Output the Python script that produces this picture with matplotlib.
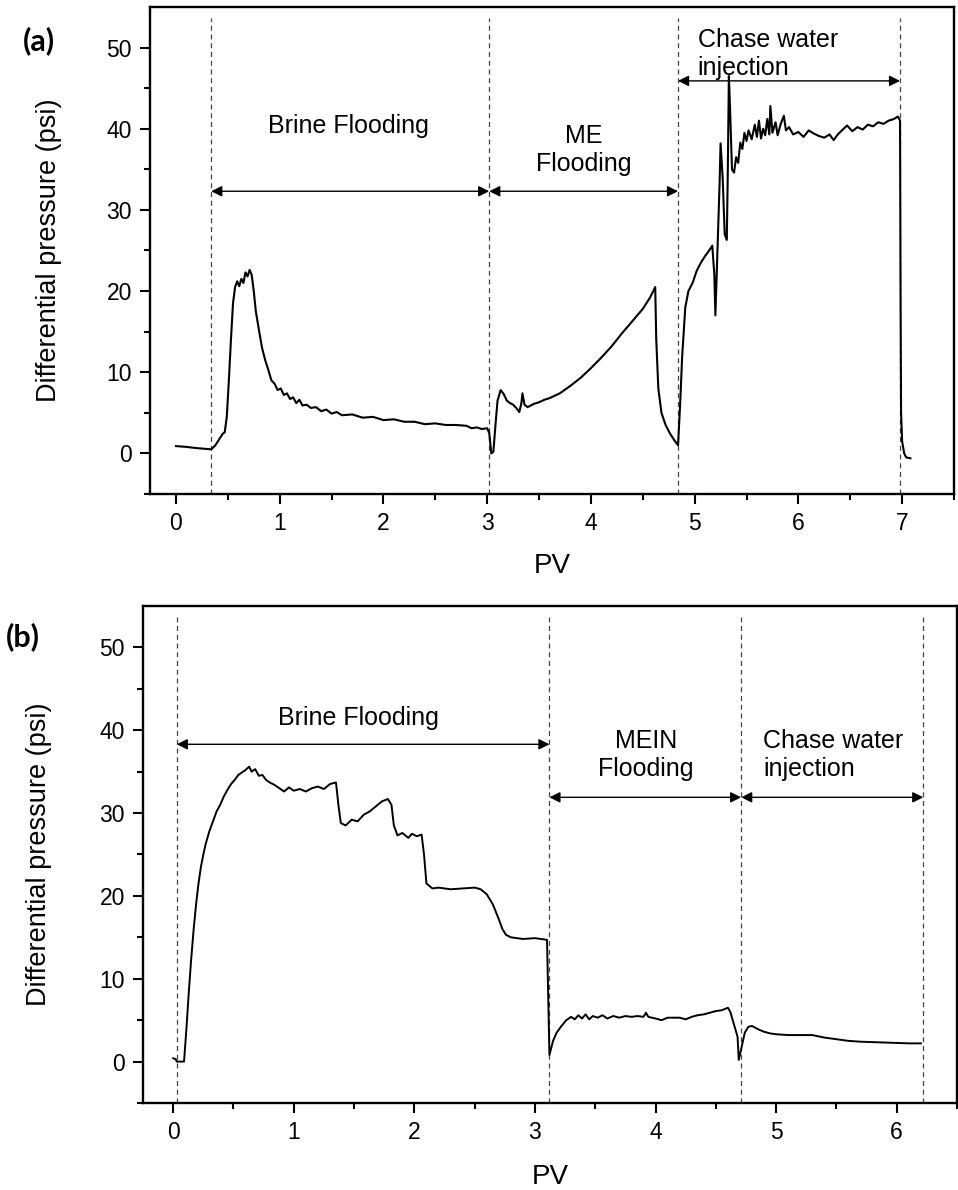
import matplotlib
matplotlib.use("Agg")
import matplotlib.pyplot as plt

plt.rcParams['font.family'] = ['Liberation Sans', 'DejaVu Sans']

# ---- panel (a) ----
pv_a = [0.00, 0.10, 0.20, 0.30, 0.34, 0.38, 0.42, 0.45, 0.47, 0.49, 0.51, 0.53, 0.55, 0.57,
        0.59, 0.61, 0.63, 0.65, 0.67, 0.69, 0.71, 0.73, 0.75, 0.77, 0.80, 0.83, 0.86, 0.89,
        0.92, 0.95, 0.98, 1.01, 1.04, 1.07, 1.10, 1.13, 1.16, 1.19, 1.22, 1.26, 1.30, 1.35,
        1.40, 1.45, 1.50, 1.55, 1.60, 1.70, 1.80, 1.90, 2.00, 2.10, 2.20, 2.30, 2.40, 2.50,
        2.60, 2.70, 2.80, 2.85, 2.90, 2.95, 3.00,
        3.02, 3.04, 3.06, 3.08, 3.10, 3.13, 3.16, 3.19, 3.22, 3.25, 3.28, 3.31, 3.33, 3.34,
        3.36, 3.39, 3.45, 3.50, 3.55, 3.60, 3.65, 3.70, 3.80, 3.90, 4.00, 4.10, 4.20, 4.30,
        4.40, 4.50, 4.57, 4.62, 4.63, 4.65, 4.68, 4.72, 4.76, 4.80, 4.84,
        4.86, 4.88, 4.91, 4.94, 4.98, 5.02, 5.06, 5.10, 5.14, 5.17, 5.19, 5.20, 5.22, 5.24,
        5.25, 5.27, 5.29, 5.31, 5.32, 5.33, 5.34, 5.36, 5.38, 5.40, 5.42, 5.44, 5.46, 5.48,
        5.50, 5.52, 5.55, 5.58, 5.60, 5.62, 5.64, 5.66, 5.68, 5.70, 5.72, 5.73, 5.75, 5.78,
        5.80, 5.83, 5.86, 5.88, 5.91, 5.95, 6.00, 6.05, 6.10, 6.15, 6.20, 6.25, 6.30, 6.34,
        6.38, 6.42, 6.47, 6.52, 6.57, 6.62, 6.67, 6.72, 6.77, 6.82, 6.87, 6.92, 6.96, 6.98,
        6.985, 6.99, 7.00, 7.02, 7.04, 7.08]
dp_a = [0.9, 0.8, 0.65, 0.55, 0.5, 1.0, 1.8, 2.4, 2.6, 4.5, 9.0, 14.0, 18.5, 20.5,
        21.2, 20.6, 21.5, 21.0, 22.3, 21.8, 22.6, 22.0, 20.0, 17.5, 15.2, 13.0, 11.5, 10.3,
        9.0, 8.6, 7.8, 8.0, 7.2, 7.4, 6.7, 6.9, 6.2, 6.6, 5.9, 6.0, 5.6, 5.7,
        5.2, 5.4, 4.9, 5.1, 4.7, 4.8, 4.4, 4.5, 4.1, 4.2, 3.9, 3.9, 3.6, 3.7,
        3.5, 3.5, 3.4, 3.1, 3.2, 3.0, 3.1,
        2.5, 0.0, 0.2, 3.5, 6.5, 7.8, 7.3, 6.5, 6.2, 6.0, 5.6, 5.1, 6.2, 7.4,
        6.0, 5.7, 6.1, 6.3, 6.6, 6.8, 7.1, 7.4, 8.3, 9.3, 10.5, 11.8, 13.2, 14.8,
        16.3, 17.8, 19.2, 20.5, 14.0, 8.0, 5.0, 3.5, 2.5, 1.7, 1.0,
        6.0, 12.0, 18.0, 20.0, 21.0, 22.5, 23.5, 24.3, 25.0, 25.6, 22.0, 17.0, 25.0, 33.0,
        38.2, 34.0, 27.0, 26.3, 35.0, 46.5, 43.0, 35.0, 34.6, 36.5, 35.8, 38.3, 37.5, 39.5,
        38.5, 39.8, 38.7, 40.5, 39.0, 41.0, 38.8, 40.0, 39.2, 41.2, 39.3, 42.8, 39.5, 40.8,
        39.2, 40.6, 41.6, 39.8, 40.2, 39.3, 39.6, 39.0, 39.8, 39.4, 39.1, 38.9, 39.3, 38.6,
        39.3, 39.8, 40.4, 39.7, 40.2, 39.9, 40.5, 40.3, 40.8, 40.6, 41.0, 41.2, 41.5, 41.0,
        20.0, 5.0, 1.5, 0.0, -0.5, -0.6]
bounds_a = [0.34, 3.02, 4.84, 6.98]

# ---- panel (b) ----
pv_b = [0.00, 0.02, 0.03, 0.09, 0.11, 0.13, 0.15, 0.17, 0.19, 0.21, 0.23, 0.25, 0.27, 0.30,
        0.33, 0.36, 0.39, 0.42, 0.45, 0.48, 0.51, 0.54, 0.57, 0.60, 0.63, 0.65, 0.68, 0.71,
        0.74, 0.77, 0.80, 0.84, 0.88, 0.92, 0.96, 1.00, 1.05, 1.10, 1.15, 1.20, 1.25, 1.30,
        1.35, 1.37, 1.39, 1.43, 1.48, 1.53, 1.58, 1.63, 1.68, 1.73, 1.78, 1.81, 1.83, 1.86,
        1.90, 1.95, 1.98, 2.02, 2.06, 2.08, 2.10, 2.15, 2.20, 2.30, 2.40, 2.50, 2.55, 2.60,
        2.65, 2.70, 2.73, 2.76, 2.80, 2.90, 3.00, 3.10, 3.11,
        3.12, 3.15, 3.18, 3.22, 3.26, 3.30, 3.33, 3.36, 3.39, 3.42, 3.45, 3.48, 3.52, 3.56,
        3.60, 3.65, 3.70, 3.75, 3.80, 3.85, 3.90, 3.92, 3.94, 4.00, 4.05, 4.10, 4.20, 4.25,
        4.30, 4.35, 4.40, 4.45, 4.50, 4.55, 4.60, 4.62, 4.65, 4.68,
        4.69, 4.71, 4.74, 4.77, 4.80, 4.85, 4.90, 4.95, 5.00, 5.10, 5.20, 5.30, 5.40, 5.50,
        5.60, 5.70, 5.80, 5.90, 6.00, 6.10, 6.20]
dp_b = [0.4, 0.3, 0.0, 0.0, 4.0, 8.5, 12.5, 16.0, 19.0, 21.5, 23.5, 25.0, 26.3, 27.8,
        29.0, 30.2, 31.0, 32.0, 32.8, 33.5, 34.0, 34.6, 34.9, 35.2, 35.6, 35.0, 35.3, 34.5,
        34.6, 34.0, 33.7, 33.4, 33.0, 32.6, 33.1, 32.7, 32.9, 32.6, 33.0, 33.2, 32.9, 33.5,
        33.7, 31.0, 28.8, 28.5, 29.2, 29.0, 29.8, 30.2, 30.8, 31.4, 31.7, 31.0, 28.5, 27.3,
        27.6, 27.0, 27.5, 27.2, 27.4, 25.0, 21.5, 20.9, 21.0, 20.8, 20.9, 21.0, 20.8, 20.2,
        19.0, 17.2, 16.0, 15.3, 15.0, 14.8, 14.9, 14.7, 8.0,
        0.8, 2.5, 3.5, 4.3, 5.0, 5.4, 5.1, 5.6, 5.2, 5.7, 5.1, 5.5, 5.3, 5.6,
        5.2, 5.5, 5.3, 5.5, 5.4, 5.5, 5.4, 5.9, 5.4, 5.2, 5.0, 5.3, 5.3, 5.1,
        5.4, 5.6, 5.7, 5.9, 6.1, 6.2, 6.5, 6.0, 4.5, 3.0,
        0.2, 1.5, 3.5, 4.2, 4.3, 3.9, 3.6, 3.4, 3.3, 3.2, 3.2, 3.2, 2.9, 2.7,
        2.5, 2.4, 2.35, 2.3, 2.25, 2.2, 2.2]
bounds_b = [0.03, 3.12, 4.71, 6.22]

fig = plt.figure(figsize=(9.58, 11.9), dpi=100)
ax1 = fig.add_axes([0.1566, 0.5849, 0.8392, 0.4092])
ax2 = fig.add_axes([0.1493, 0.0731, 0.8497, 0.4177])


def style(ax, xmax, ticks):
    ax.set_ylim(-5, 55)
    ax.set_xlim(-0.25, xmax)
    ax.set_xticks(ticks)
    ax.set_xticks([t + 0.5 for t in ticks], minor=True)
    ax.set_yticks([0, 10, 20, 30, 40, 50])
    ax.set_yticks([-5, 5, 15, 25, 35, 45], minor=True)
    for s in ax.spines.values():
        s.set_linewidth(1.7)
    ax.tick_params(which='both', direction='out', top=False, right=False,
                   width=1.5, labelsize=16.5)
    ax.tick_params(which='major', length=7, pad=6)
    ax.tick_params(which='minor', length=4.5)
    ax.set_ylabel('Differential pressure (psi)', fontsize=19.5)
    ax.set_xlabel('PV', fontsize=20, va='center')
    ax.xaxis.set_label_coords(0.5, -0.148)


def arrow(ax, x0, x1, y):
    ax.annotate('', xy=(x1, y), xytext=(x0, y),
                arrowprops=dict(arrowstyle='<|-|>', color='black', lw=1.0,
                                mutation_scale=16, shrinkA=0, shrinkB=0))


style(ax1, 7.5, [0, 1, 2, 3, 4, 5, 6, 7])
style(ax2, 6.45, [0, 1, 2, 3, 4, 5, 6])
ax1.yaxis.set_label_coords(-0.110, 0.5)
ax2.yaxis.set_label_coords(-0.112, 0.5)

for ax, bnds in ((ax1, bounds_a), (ax2, bounds_b)):
    ax.vlines(bnds, -5, 53.7, colors='#444444', linestyles=(0, (4, 3)), lw=0.9)

ax1.plot(pv_a, dp_a, color='black', lw=1.5)
ax2.plot(pv_b, dp_b, color='black', lw=1.4)

# phase labels, panel (a)
arrow(ax1, bounds_a[0], bounds_a[1], 32.3)
arrow(ax1, bounds_a[1], bounds_a[2], 32.3)
arrow(ax1, bounds_a[2], bounds_a[3], 45.9)
ax1.text(1.66, 40.3, 'Brine Flooding', fontsize=18, ha='center', va='center')
ax1.text(3.93, 37.4, 'ME\nFlooding', fontsize=18, ha='center', va='center',
         linespacing=1.2)
ax1.text(5.03, 49.2, 'Chase water\ninjection', fontsize=18, ha='left', va='center',
         linespacing=1.25)

# phase labels, panel (b)
arrow(ax2, bounds_b[0], bounds_b[1], 38.3)
arrow(ax2, bounds_b[1], bounds_b[2], 31.9)
arrow(ax2, bounds_b[2], bounds_b[3], 31.9)
ax2.text(1.54, 41.5, 'Brine Flooding', fontsize=18, ha='center', va='center')
ax2.text(3.92, 37.0, 'MEIN\nFlooding', fontsize=18, ha='center', va='center',
         linespacing=1.25)
ax2.text(4.89, 37.0, 'Chase water\ninjection', fontsize=18, ha='left', va='center',
         linespacing=1.25)

fig.text(0.024, 0.966, '(a)', fontsize=22, fontweight='bold', family='Lato', va='center')
fig.text(0.006, 0.465, '(b)', fontsize=22, fontweight='bold', family='Lato', va='center')

fig.savefig('out.png', dpi=100)
